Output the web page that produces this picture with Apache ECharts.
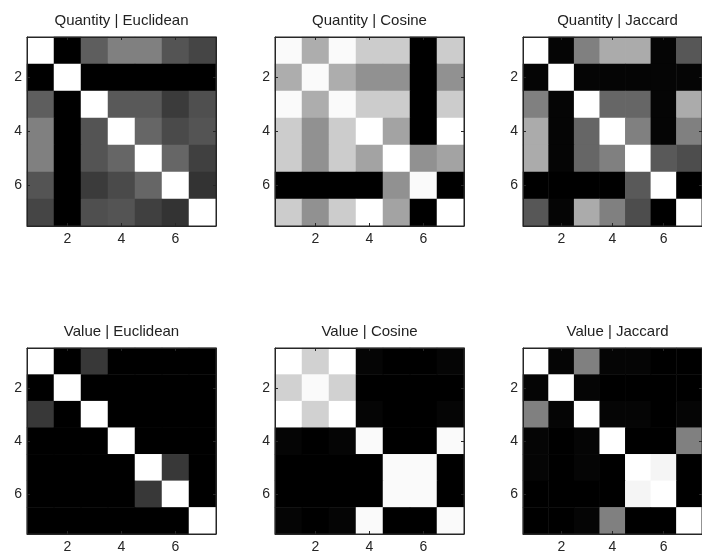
<!DOCTYPE html>
<html><head><meta charset="utf-8">
<script src="https://cdn.jsdelivr.net/npm/echarts@6/dist/echarts.min.js"></script>
<style>html,body{margin:0;padding:0;background:#fff}#c{width:702px;height:554px}</style>
</head><body><div id="c"></div>
<script>
const categories = ['1','2','3','4','5','6','7'];
const tickLabels = ['2','4','6'];
const titles = ['Quantity | Euclidean','Quantity | Cosine','Quantity | Jaccard','Value | Euclidean','Value | Cosine','Value | Jaccard'];

const qtyEuclidean = [
 [1.00,0.00,0.37,0.50,0.50,0.33,0.27],
 [0.00,1.00,0.00,0.00,0.00,0.00,0.00],
 [0.37,0.00,1.00,0.35,0.35,0.23,0.31],
 [0.50,0.00,0.33,1.00,0.40,0.29,0.33],
 [0.50,0.00,0.33,0.40,1.00,0.40,0.25],
 [0.33,0.00,0.23,0.29,0.40,1.00,0.20],
 [0.27,0.00,0.31,0.33,0.25,0.20,1.00]
];
const qtyCosine = [
 [0.98,0.68,0.98,0.80,0.80,0.00,0.80],
 [0.68,0.98,0.68,0.57,0.57,0.00,0.57],
 [0.98,0.68,0.98,0.80,0.80,0.00,0.80],
 [0.80,0.57,0.80,1.00,0.64,0.00,1.00],
 [0.80,0.57,0.80,0.64,1.00,0.57,0.64],
 [0.00,0.00,0.00,0.00,0.57,0.98,0.00],
 [0.80,0.57,0.80,1.00,0.64,0.00,1.00]
];
const qtyJaccard = [
 [1.00,0.02,0.50,0.67,0.67,0.02,0.34],
 [0.02,1.00,0.02,0.02,0.02,0.02,0.02],
 [0.50,0.02,1.00,0.40,0.40,0.02,0.67],
 [0.67,0.02,0.40,1.00,0.50,0.02,0.50],
 [0.67,0.02,0.40,0.50,1.00,0.35,0.30],
 [0.00,0.00,0.00,0.00,0.35,1.00,0.00],
 [0.34,0.02,0.67,0.50,0.30,0.00,1.00]
];
const valEuclidean = [
 [1.00,0.00,0.22,0.00,0.00,0.00,0.00],
 [0.00,1.00,0.00,0.00,0.00,0.00,0.00],
 [0.22,0.00,1.00,0.00,0.00,0.00,0.00],
 [0.00,0.00,0.00,1.00,0.00,0.00,0.00],
 [0.00,0.00,0.00,0.00,1.00,0.22,0.00],
 [0.00,0.00,0.00,0.00,0.22,1.00,0.00],
 [0.00,0.00,0.00,0.00,0.00,0.00,1.00]
];
const valCosine = [
 [1.00,0.82,1.00,0.02,0.00,0.00,0.02],
 [0.82,0.98,0.82,0.00,0.00,0.00,0.00],
 [1.00,0.82,1.00,0.02,0.00,0.00,0.02],
 [0.02,0.00,0.02,0.98,0.00,0.00,0.98],
 [0.00,0.00,0.00,0.00,0.98,0.98,0.00],
 [0.00,0.00,0.00,0.00,0.98,0.98,0.00],
 [0.02,0.00,0.02,0.98,0.00,0.00,0.98]
];
const valJaccard = [
 [1.00,0.02,0.50,0.02,0.02,0.00,0.00],
 [0.02,1.00,0.02,0.00,0.00,0.00,0.00],
 [0.50,0.02,1.00,0.02,0.02,0.00,0.02],
 [0.02,0.00,0.02,1.00,0.00,0.00,0.50],
 [0.02,0.00,0.02,0.00,1.00,0.96,0.00],
 [0.00,0.00,0.00,0.00,0.96,1.00,0.00],
 [0.00,0.00,0.02,0.50,0.00,0.00,1.00]
];
const matrices = [qtyEuclidean, qtyCosine, qtyJaccard, valEuclidean, valCosine, valJaccard];

const lefts = [27, 275, 523];
const tops = [37, 348];
const size = 189;
const FONT = 'Liberation Sans, Arial, sans-serif';

const chart = echarts.init(document.getElementById('c'), null, {renderer:'canvas'});
const grid = [], xAxis = [], yAxis = [], series = [], graphic = [];
const showIdx = (i) => tickLabels.indexOf(categories[i]) >= 0;

matrices.forEach((m, k) => {
  const left = lefts[k % 3], top = tops[Math.floor(k / 3)];
  grid.push({left: left, top: top, width: size, height: size, show: true, borderColor: '#262626', borderWidth: 1, backgroundColor: 'transparent', z: 5});
  const axBase = {type: 'category', data: categories, gridIndex: k,
    axisLine: {show: true, lineStyle: {color: '#262626', width: 1}},
    axisTick: {show: true, inside: true, length: 3, alignWithLabel: true, interval: (i) => showIdx(i), lineStyle: {color: '#262626'}},
    splitLine: {show: false}, z: 6};
  xAxis.push(Object.assign({}, axBase, {position: 'bottom',
    axisLabel: {show: true, interval: (i) => showIdx(i), color: '#262626', fontSize: 14, fontFamily: FONT, margin: 6}}));
  xAxis.push(Object.assign({}, axBase, {position: 'top', axisLabel: {show: false}}));
  yAxis.push(Object.assign({}, axBase, {position: 'left', inverse: true,
    axisLabel: {show: true, interval: (i) => showIdx(i), color: '#262626', fontSize: 14, fontFamily: FONT, margin: 5}}));
  yAxis.push(Object.assign({}, axBase, {position: 'right', inverse: true, axisLabel: {show: false}}));
  const data = [];
  m.forEach((row, r) => row.forEach((v, c) => data.push([c, r, v])));
  series.push({type: 'heatmap', xAxisIndex: 2 * k, yAxisIndex: 2 * k, data: data,
    itemStyle: {borderWidth: 0}, emphasis: {disabled: true}, progressive: 0});
  graphic.push({type: 'text', x: left + size / 2, y: top - 16.5,
    style: {text: titles[k], fontSize: 15, fontFamily: FONT, fill: '#222', align: 'center', textAlign: 'center', verticalAlign: 'middle', textVerticalAlign: 'middle'}});
});

chart.setOption({
  animation: false,
  grid: grid, xAxis: xAxis, yAxis: yAxis, series: series,
  visualMap: {show: false, type: 'continuous', min: 0, max: 1, seriesIndex: series.map((s, i) => i), inRange: {color: ['#000000', '#ffffff']}},
  graphic: graphic
});
</script></body></html>
